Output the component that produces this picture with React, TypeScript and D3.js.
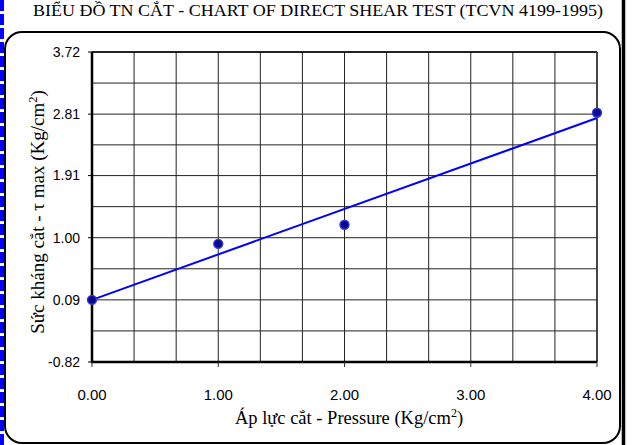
import React from "react";
import * as d3 from "d3";

const pressure = [0, 1, 2, 4];
const shear = [0.09, 0.91, 1.19, 2.83];
const yTickValues = [-0.82, 0.09, 1.0, 1.91, 2.81, 3.72];
const yTickLabels = ["-0.82", "0.09", "1.00", "1.91", "2.81", "3.72"];
const xTickValues = [0, 1, 2, 3, 4];
const xTickLabels = ["0.00", "1.00", "2.00", "3.00", "4.00"];
const titleText = "BIỂU ĐỒ TN CẮT - CHART OF DIRECT SHEAR TEST (TCVN 4199-1995)";

const W = 635;
const H = 445;

export default function App() {
  const x = d3.scaleLinear().domain([0, 4]).range([92, 597]);
  const y = d3.scaleLinear().domain([-0.82, 3.72]).range([362, 52]);

  // minor grid: thirds on x, halves on y
  const xGrid = d3.range(1, 12).map((i) => (i * 4) / 12);
  const yGrid: number[] = [];
  for (let i = 0; i < yTickValues.length; i++) {
    yGrid.push(yTickValues[i]);
    if (i < yTickValues.length - 1) yGrid.push((yTickValues[i] + yTickValues[i + 1]) / 2);
  }

  // least-squares trend line
  const mx = d3.mean(pressure)!;
  const my = d3.mean(shear)!;
  const sxy = d3.sum(pressure.map((p, i) => (p - mx) * (shear[i] - my)));
  const sxx = d3.sum(pressure.map((p) => (p - mx) * (p - mx)));
  const slope = sxy / sxx;
  const icpt = my - slope * mx;
  const trend = [0, 4].map((p) => [p, icpt + slope * p] as [number, number]);
  const lineGen = d3
    .line<[number, number]>()
    .x((d) => x(d[0]))
    .y((d) => y(d[1]));

  const sans = "'Liberation Sans', Arial, sans-serif";
  const serif = "'Liberation Serif', 'Times New Roman', serif";

  return (
    <svg
      width={W}
      height={H}
      style={{ position: "absolute", left: 0, top: 0, background: "#fff" }}
    >
      <rect x={0} y={0} width={W} height={H} fill="#fff" />
      {/* left blue dashed edge */}
      <line x1={2} y1={0} x2={2} y2={H} stroke="#0000ff" strokeWidth={4} strokeDasharray="11 3" />
      {/* right black bar */}
      <line x1={623.5} y1={0} x2={623.5} y2={H} stroke="#000" strokeWidth={3.5} />
      {/* rounded frame */}
      <rect x={5} y={32} width={615} height={411} rx={17} ry={17} fill="none" stroke="#000" strokeWidth={2} />

      <text
        x={318}
        y={16}
        textAnchor="middle"
        fontFamily={serif}
        fontSize={17}
        textLength={570}
        lengthAdjust="spacingAndGlyphs"
        fill="#000"
      >
        {titleText}
      </text>

      {/* grid */}
      {xGrid.map((v, i) => (
        <line key={"xg" + i} x1={x(v)} x2={x(v)} y1={y(3.72)} y2={y(-0.82)} stroke="#222" strokeWidth={1} />
      ))}
      {yGrid.map((v, i) => (
        <line key={"yg" + i} x1={x(0)} x2={x(4)} y1={y(v)} y2={y(v)} stroke="#222" strokeWidth={1} />
      ))}
      {/* plot border */}
      <line x1={x(0)} x2={x(4)} y1={y(3.72)} y2={y(3.72)} stroke="#000" strokeWidth={1.5} />
      <line x1={x(4)} x2={x(4)} y1={y(3.72)} y2={y(-0.82)} stroke="#333" strokeWidth={1.8} />
      <line x1={x(0)} x2={x(0)} y1={y(3.72)} y2={y(-0.82) + 1} stroke="#000" strokeWidth={2.5} />
      <line x1={x(0) - 1} x2={x(4)} y1={y(-0.82)} y2={y(-0.82)} stroke="#000" strokeWidth={2.5} />

      {/* y ticks */}
      {yTickValues.map((v, i) => (
        <g key={"yt" + i}>
          <line x1={x(0) - 4} x2={x(0)} y1={y(v)} y2={y(v)} stroke="#000" strokeWidth={1} />
          <text x={80} y={y(v)} dy="0.35em" textAnchor="end" fontFamily={sans} fontSize={14} fill="#000">
            {yTickLabels[i]}
          </text>
        </g>
      ))}
      {/* x ticks */}
      {xTickValues.map((v, i) => (
        <g key={"xt" + i}>
          <line x1={x(v)} x2={x(v)} y1={y(-0.82)} y2={y(-0.82) + 5} stroke="#333" strokeWidth={1} />
          <text x={x(v)} y={400} textAnchor="middle" fontFamily={sans} fontSize={15} fill="#000">
            {xTickLabels[i]}
          </text>
        </g>
      ))}

      {/* trend line */}
      <path d={lineGen(trend) || ""} fill="none" stroke="#0000ff" strokeWidth={2} />
      {/* points */}
      {pressure.map((p, i) => (
        <circle key={"pt" + i} cx={x(p)} cy={y(shear[i])} r={4.5} fill="#0a0a8c" stroke="#3a3ad8" strokeWidth={1.4} />
      ))}

      {/* axis titles */}
      <text x={349} y={424} textAnchor="middle" fontFamily={serif} fontSize={18.5} fill="#000">
        Áp lực cắt - Pressure (Kg/cm
        <tspan fontSize={12} dy={-7}>2</tspan>
        <tspan dy={7}>)</tspan>
      </text>
      <text
        transform={"translate(44," + 212 + ") rotate(-90)"}
        textAnchor="middle"
        fontFamily={serif}
        fontSize={19}
        fill="#000"
      >
        Sức kháng cắt - τ max (Kg/cm
        <tspan fontSize={12.5} dy={-7}>2</tspan>
        <tspan dy={7}>)</tspan>
      </text>
    </svg>
  );
}
